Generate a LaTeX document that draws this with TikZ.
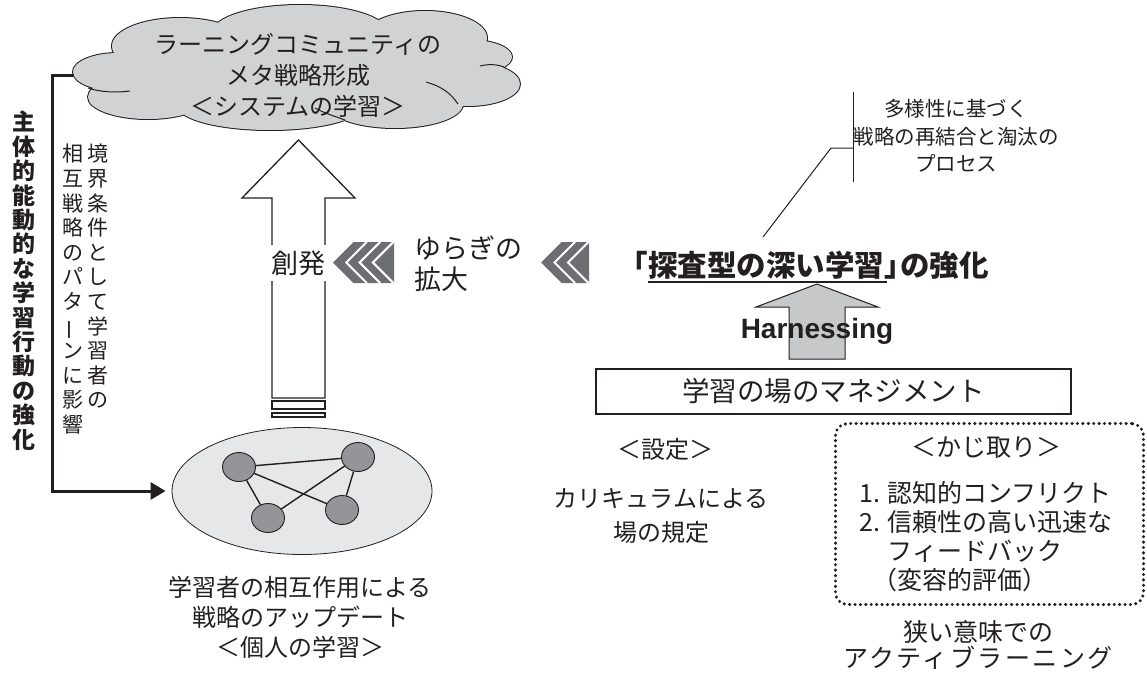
\documentclass[tikz,border=0pt]{standalone}
\usepackage{fontspec}
\usepackage{graphicx}
\setmainfont{Noto Sans CJK JP}
\newfontfamily\lat{Liberation Sans}
\usetikzlibrary{shapes.geometric,arrows.meta}
\definecolor{ink}{HTML}{231F20}
\definecolor{cloudgray}{HTML}{D1D2D4}
\definecolor{ellgray}{HTML}{E6E7E8}
\definecolor{dotgray}{HTML}{939598}
\definecolor{chev}{HTML}{6D6E71}
\definecolor{harn}{HTML}{C7C8CA}
\newcommand{\fsz}[2]{\fontsize{#1}{#2}\selectfont}
\newcommand{\cloudlobes}{%
  (118,72) ellipse [x radius=45, y radius=19]
  (180,46) ellipse [x radius=68, y radius=28]
  (300,33) ellipse [x radius=88, y radius=28]
  (425,38) ellipse [x radius=62, y radius=27]
  (470,57) ellipse [x radius=42, y radius=17]
  (468,84) ellipse [x radius=52, y radius=22]
  (395,104) ellipse [x radius=68, y radius=24]
  (270,106) ellipse [x radius=92, y radius=24]
  (148,97) ellipse [x radius=60, y radius=22]
  (297,70) ellipse [x radius=185, y radius=42]}
\begin{document}
\begin{tikzpicture}[x=1pt,y=-1pt,
  txt/.style={inner sep=0pt, align=center, text=ink},
  learner/.style={ellipse, draw=ink, fill=dotgray, line width=0.9pt, minimum width=33pt, minimum height=29pt, inner sep=0pt},
  link/.style={draw=ink, line width=1.4pt},
  blockarrow/.style={draw=ink, line width=1.3pt, line join=miter},
  chevwhite/.style={draw=white, line width=2pt},
  thinline/.style={draw=ink, line width=1pt}]
\useasboundingbox (0,0) rectangle (1147,675);

% cloud (union of lobes)
\path[draw=ink, line width=2pt, fill=cloudgray] \cloudlobes;
\path[fill=cloudgray] \cloudlobes;
\draw[thinline] (88,88) .. controls (100,92) and (115,93) .. (130,91);
\draw[thinline] (504,67) .. controls (496,64) and (488,64) .. (480,66);
\draw[thinline] (458,104) .. controls (450,92) and (440,86) .. (426,82);
\draw[thinline] (345,120) .. controls (334,116) and (324,113) .. (315,108);
\node[txt, font=\fsz{24}{31}] (cloud) at (298,75) {ラーニングコミュニティの\\メタ戦略形成\\＜システムの学習＞};

% vertical texts
\node[txt, anchor=north, font=\bfseries\fsz{23}{24.4}] (vbold) at (24,111)
  {主\\体\\的\\能\\動\\的\\な\\学\\習\\行\\動\\の\\強\\化};
\node[txt, anchor=north, font=\fsz{21}{24.6}] (vcolA) at (98,144)
  {境\\界\\条\\件\\と\\し\\て\\学\\習\\者\\の};
\node[txt, anchor=north, font=\fsz{21}{24.6}] (vcolB) at (73,144)
  {相\\互\\戦\\略\\の\\パ\\タ\\\rotatebox[origin=c]{90}{ー}\\ン\\に\\影\\響};

% ellipse with learners
\node[ellipse, draw=ink, fill=ellgray, line width=0.8pt, minimum width=260pt, minimum height=127pt, inner sep=0pt] (ell) at (302,491) {};
\node[learner] (n1) at (239,467) {};
\node[learner] (n2) at (358,457) {};
\node[learner] (n3) at (342,510) {};
\node[learner] (n4) at (268,518) {};
\draw[link] (n1) -- (n2);
\draw[link] (n1) -- (n3);
\draw[link] (n1) -- (n4);
\draw[link] (n2) -- (n3);
\draw[link] (n2) -- (n4);
\node[txt, font=\fsz{24}{30}] (indiv) at (300,617) {学習者の相互作用による\\戦略のアップデート\\＜個人の学習＞};

% feedback bracket arrow
\coordinate (cl) at (74,75);
\draw[ink, line width=3pt, line join=miter, -{Triangle[length=15pt,width=17pt]}, shorten >=6pt]
  (cl) -- ++(-22,0) |- (ell.west);

% big hollow arrow
\draw[blockarrow, fill=white] (272,398) -- (272,198) -- (242,198) -- (298.5,140) -- (355,198) -- (325,198) -- (325,398) -- cycle;
\draw[blockarrow] (272,401) rectangle (325,409);
\draw[blockarrow] (272,413) rectangle (325,417);
\node[txt, fill=white, inner xsep=4pt, inner ysep=6pt, font=\fsz{27}{30}] (sohatsu) at (298.5,263) {創発};

% chevrons
\fill[chev] (333,262.5) -- (353.5,242) -- (394,242) -- (394,283) -- (353.5,283) -- cycle;
\foreach \k in {1,2,3} \draw[chevwhite] ({333+13.3*\k+20.5},242) -- ({333+13.3*\k},262.5) -- ({333+13.3*\k+20.5},283);
\fill[chev] (541,262.5) -- (561.5,242) -- (589,242) -- (589,283) -- (561.5,283) -- cycle;
\foreach \k in {1,2} \draw[chevwhite] ({541+13.5*\k+20.5},242) -- ({541+13.5*\k},262.5) -- ({541+13.5*\k+20.5},283);

\node[txt, anchor=west, align=left, font=\fsz{27}{31}] (yuragi) at (414,264) {ゆらぎの\\拡大};

% title
\node[txt, anchor=west, font=\bfseries\fsz{29.5}{32}] (title) at (618.5,265) {「探査型の深い学習」\kern-0.45em の強化};
\draw[ink, line width=2pt] (648,282) -- (887,282);

% leader to diversity text
\coordinate (ld1) at (763,237);
\coordinate (ld2) at (831,148);
\coordinate (ldtop) at (853,92);
\coordinate (ldbot) at (853,182);
\draw[thinline] (ld1) -- (ld2) -- (853,148);
\draw[thinline] (ldtop) -- (ldbot);
\node[txt, font=\fsz{20.5}{27.5}] (div) at (956,136) {多様性に基づく\\戦略の再結合と淘汰の\\プロセス};

% harnessing arrow
\draw[draw=ink, line width=1pt, fill=harn] (789,359) -- (789,307) -- (756,307) -- (817,284) -- (878,307) -- (845,307) -- (845,359) -- cycle;
\node[txt, font=\lat\bfseries\fsz{28}{30}] (harnt) at (817,331) {Harnessing};

% management box
\node[draw=ink, line width=1.3pt, minimum width=475pt, minimum height=45pt, inner sep=0pt, text=ink, font=\fsz{27.5}{30}] (mgmt) at (833.5,391.5) {学習の場のマネジメント};

\node[txt, font=\fsz{24}{30}] (settei) at (665,449) {＜設定＞};
\node[txt, font=\fsz{24}{34}] (curr) at (661,516) {カリキュラムによる\\場の規定};

% steering box
\node[draw=ink, line width=3.4pt, dash pattern=on 0pt off 5.4pt, line cap=round, rounded corners=12pt,
      minimum width=308pt, minimum height=181pt, inner sep=0pt] (kaji) at (989.5,514) {};
\node[txt, font=\fsz{25}{30}] (kajit) at (986,448) {＜かじ取り＞};
\node[txt, anchor=west, align=left, font=\fsz{25}{29}] (items) at (859,537)
  {1. 認知的コンフリクト\\2. 信頼性の高い迅速な\\\phantom{1. }フィードバック\\\hspace{0.55em}（変容的評価）};
\node[txt, font=\fsz{25}{26}] (narrow) at (978,645) {狭い意味での\\\addfontfeature{LetterSpace=10}アクティブラーニング};
\end{tikzpicture}
\end{document}
